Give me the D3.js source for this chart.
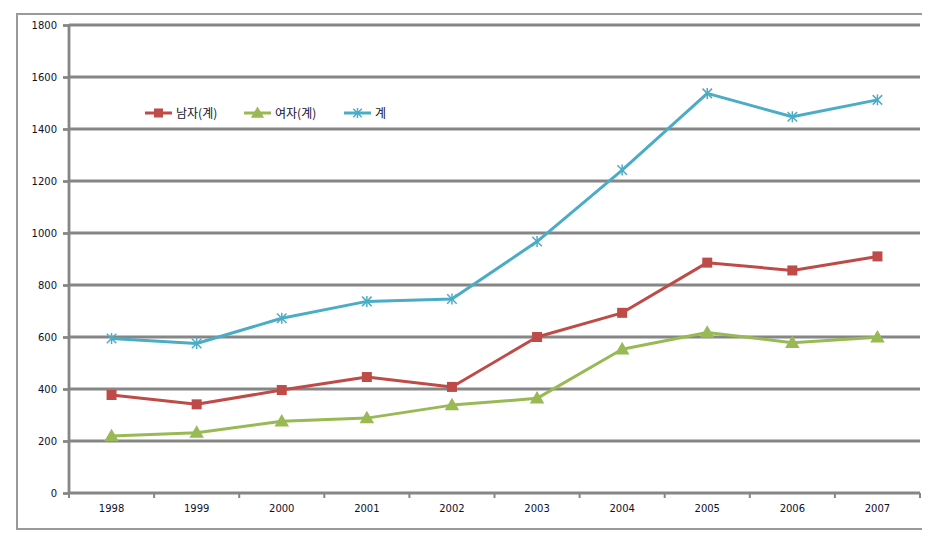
<!DOCTYPE html>
<html><head><meta charset="utf-8">
<script src="https://cdn.jsdelivr.net/npm/d3@7"></script>
<style>body{margin:0;background:#fff}svg{display:block}</style>
</head><body>
<svg id="c" width="935" height="542"></svg>
<script>
const years = ["1998","1999","2000","2001","2002","2003","2004","2005","2006","2007"];
const male = [377, 341, 396, 446, 408, 600, 693, 886, 856, 910];
const female = [219, 232, 276, 288, 338, 364, 553, 617, 578, 599];
const total = [594, 575, 672, 737, 746, 967, 1242, 1537, 1447, 1512];
const seriesNames = ["남자(계)", "여자(계)", "계"];
const yTicks = [0, 200, 400, 600, 800, 1000, 1200, 1400, 1600, 1800];

const series = [
  {name: seriesNames[0], values: male, color: "#be4b48", marker: "square"},
  {name: seriesNames[1], values: female, color: "#98b954", marker: "triangle"},
  {name: seriesNames[2], values: total, color: "#4bacc6", marker: "star"}
];

const svg = d3.select("#c");
const L = 69, R = 920, T = 25, B = 493;
const x = d3.scaleBand().domain(years).range([L, R]);
const y = d3.scaleLinear().domain([0, 1800]).range([B, T]);
const grid = "#868686";
const font = "'DejaVu Sans', Verdana, sans-serif";

// outer border (top, left, bottom)
svg.append("path").attr("d", "M922,14 L17,14 L17,529 L922,529")
  .attr("fill", "none").attr("stroke", "#9a9a9a").attr("stroke-width", 2);

// gridlines
svg.append("g").selectAll("line").data(yTicks.filter(d => d > 0)).join("line")
  .attr("x1", L).attr("x2", R).attr("y1", d => y(d)).attr("y2", d => y(d))
  .attr("stroke", grid).attr("stroke-width", 2.8);

// y axis
const ya = svg.append("g").attr("transform", `translate(${L},0)`)
  .call(d3.axisLeft(y).tickValues(yTicks).tickSize(6).tickPadding(6).tickFormat(d3.format("d")));
ya.select(".domain").attr("stroke", grid).attr("stroke-width", 2.8).attr("d", `M0,${T}V${B}`);
ya.selectAll(".tick line").attr("stroke", grid).attr("stroke-width", 2.8);
ya.selectAll("text").attr("font-family", font).attr("font-size", 10).attr("fill", "#10102a");

// x axis
const xa = svg.append("g").attr("transform", `translate(0,${B})`)
  .call(d3.axisBottom(x).tickSize(0).tickPadding(12));
xa.select(".domain").attr("stroke", grid).attr("stroke-width", 2.8).attr("d", `M${L},0H${R}`);
xa.selectAll("text").attr("font-family", font).attr("font-size", 10).attr("fill", "#10102a");
const bounds = years.map(d => x(d)).concat([R]);
xa.append("g").selectAll("line").data(bounds).join("line")
  .attr("x1", d => d).attr("x2", d => d).attr("y1", 0).attr("y2", 5)
  .attr("stroke", grid).attr("stroke-width", 2);

const cx = d => x(d) + x.bandwidth() / 2;
const line = d3.line().x(d => cx(d[0])).y(d => y(d[1]));

function marker(g, type, color, px, py, s) {
  if (type === "square") {
    g.append("rect").attr("x", px - s/2).attr("y", py - s/2).attr("width", s).attr("height", s)
      .attr("fill", color);
  } else if (type === "triangle") {
    g.append("path").attr("d", d3.symbol(d3.symbolTriangle, s * s * 0.75)())
      .attr("transform", `translate(${px},${py + 1})`).attr("fill", color);
  } else {
    g.append("path").attr("d", d3.symbol(d3.symbolTimes, s * s * 0.5)())
      .attr("transform", `translate(${px},${py})`).attr("fill", "none").attr("stroke", color).attr("stroke-width", 1.5);
    g.append("line").attr("x1", px).attr("x2", px).attr("y1", py - s/2).attr("y2", py + s/2)
      .attr("stroke", color).attr("stroke-width", 1.5);
  }
}

series.forEach(s => {
  const pts = years.map((yr, i) => [yr, s.values[i]]);
  const g = svg.append("g");
  g.append("path").attr("d", line(pts)).attr("fill", "none").attr("stroke", s.color)
    .attr("stroke-width", 3).attr("stroke-linejoin", "round");
  pts.forEach(p => marker(g, s.marker, s.color, cx(p[0]), y(p[1]), s.marker === "square" ? 10 : 11));
});

// legend
const legX = [145, 244, 344];
series.forEach((s, i) => {
  const g = svg.append("g");
  const ly = 113;
  g.append("line").attr("x1", legX[i]).attr("x2", legX[i] + 27).attr("y1", ly).attr("y2", ly)
    .attr("stroke", s.color).attr("stroke-width", 3);
  marker(g, s.marker, s.color, legX[i] + 13.5, ly, s.marker === "square" ? 9 : 10);
  g.append("text").attr("x", legX[i] + 31).attr("y", ly + 4.5).text(s.name)
    .attr("font-family", "'Noto Sans CJK KR', sans-serif").attr("font-size", 12).attr("fill", "#10102a");
});
</script>
</body></html>
